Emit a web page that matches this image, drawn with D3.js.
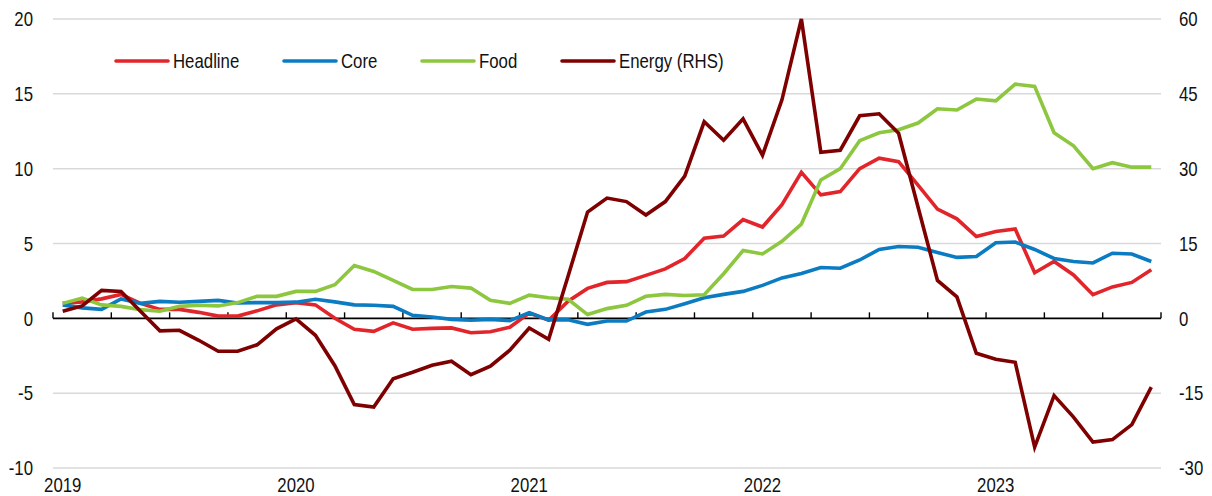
<!DOCTYPE html>
<html>
<head>
<meta charset="utf-8">
<script src="https://cdn.jsdelivr.net/npm/d3@7"></script>
<style>
  body { margin: 0; background: #fff; }
  text { font-family: "Liberation Sans", Arial, sans-serif; fill: #111; }
</style>
</head>
<body>
<div id="chart"></div>
<script>
// monthly, Jan 2019 - Sep 2023
let months = d3.timeMonths(new Date(2019, 0, 1), new Date(2023, 9, 1))
let yearLabels = ['2019', '2020', '2021', '2022', '2023']

let headline = [1.0, 1.1, 1.3, 1.6, 1.0, 0.6, 0.6, 0.4, 0.15, 0.15, 0.5, 0.9,
  1.05, 0.9, 0.0, -0.73, -0.87, -0.3, -0.73, -0.67, -0.64, -0.96, -0.9, -0.6,
  0.35, -0.13, 1.15, 2.0, 2.4, 2.45, 2.87, 3.3, 4.0, 5.35, 5.5, 6.6,
  6.1, 7.6, 9.75, 8.25, 8.47, 10.0, 10.7, 10.47, 8.9, 7.3, 6.65, 5.47,
  5.8, 5.97, 3.05, 3.8, 2.9, 1.58, 2.1, 2.4, 3.25]

let core = [0.9, 0.7, 0.6, 1.3, 1.0, 1.13, 1.07, 1.13, 1.2, 1.03, 1.05, 1.05,
  1.08, 1.27, 1.1, 0.9, 0.87, 0.8, 0.2, 0.09, -0.07, -0.13, -0.07, -0.15,
  0.38, -0.1, -0.1, -0.4, -0.18, -0.18, 0.42, 0.6, 0.98, 1.38, 1.6, 1.8,
  2.2, 2.7, 3.0, 3.4, 3.35, 3.9, 4.6, 4.8, 4.75, 4.4, 4.07, 4.13,
  5.05, 5.1, 4.6, 4.0, 3.8, 3.7, 4.35, 4.3, 3.8]

let food = [1.0, 1.35, 0.9, 0.8, 0.58, 0.47, 0.8, 0.87, 0.83, 1.05, 1.47, 1.47,
  1.8, 1.8, 2.25, 3.53, 3.13, 2.53, 1.93, 1.93, 2.13, 2.02, 1.2, 1.0,
  1.55, 1.38, 1.27, 0.25, 0.65, 0.87, 1.47, 1.6, 1.53, 1.58, 2.98, 4.53,
  4.3, 5.15, 6.3, 9.25, 10.0, 11.87, 12.4, 12.6, 13.05, 14.0, 13.92, 14.65,
  14.53, 15.65, 15.5, 12.4, 11.53, 10.0, 10.4, 10.1, 10.1]

// right-hand scale
let energy = [1.4, 2.5, 5.6, 5.4, 1.4, -2.5, -2.4, -4.4, -6.6, -6.6, -5.3, -2.1,
  -0.1, -3.4, -9.5, -17.3, -17.8, -12.1, -10.8, -9.4, -8.6, -11.3, -9.6, -6.4,
  -1.95, -4.2, 8.5, 21.3, 24.1, 23.4, 20.7, 23.4, 28.5, 39.4, 35.7, 40.0,
  32.7, 43.8, 60.0, 33.3, 33.7, 40.6, 41.0, 37.1, 22.3, 7.6, 4.3, -7.0,
  -8.2, -8.8, -25.8, -15.5, -19.8, -24.8, -24.3, -21.3, -13.8]

let leftTicks = [-10, -5, 0, 5, 10, 15, 20]
let rightTicks = [-30, -15, 0, 15, 30, 45, 60]

let series = [
  { name: 'Headline', values: headline, color: '#e2252b', axis: 'left' },
  { name: 'Core', values: core, color: '#0b7cc2', axis: 'left' },
  { name: 'Food', values: food, color: '#8dc63f', axis: 'left' },
  { name: 'Energy (RHS)', values: energy, color: '#7f0000', axis: 'right' }
]

let width = 1212
let height = 496
let margin = { top: 19, left: 53, right: 51, bottom: 28 }
let fontSize = '20px'
let squeeze = 0.84 // narrow look of the original typeface

let svg = d3
  .select('#chart')
  .append('svg')
  .attr('width', width)
  .attr('height', height)

let x = d3
  .scaleBand()
  .domain(months)
  .range([margin.left, width - margin.right])

let yLeft = d3.scaleLinear().domain([-10, 20]).range([height - margin.bottom, margin.top])
let yRight = d3.scaleLinear().domain([-30, 60]).range([height - margin.bottom, margin.top])

let cx = d => x(d) + x.bandwidth() / 2

function label(sel, px, py, anchor) {
  sel
    .attr('transform', (d, i) => `translate(${px(d, i)},${py(d, i)}) scale(${squeeze},1)`)
    .attr('text-anchor', anchor)
    .style('font-size', fontSize)
}

// gridlines
svg
  .selectAll('.grid')
  .data(leftTicks.filter(d => d !== 0))
  .enter()
  .append('line')
  .attr('class', 'grid')
  .attr('x1', margin.left)
  .attr('x2', width - margin.right)
  .attr('y1', d => yLeft(d))
  .attr('y2', d => yLeft(d))
  .attr('stroke', '#d9d9d9')
  .attr('stroke-width', 1.5)

// left axis labels
svg
  .selectAll('.ltick')
  .data(leftTicks)
  .enter()
  .append('text')
  .attr('class', 'ltick')
  .attr('dy', '0.36em')
  .call(label, () => 33, d => yLeft(d), 'end')
  .text(d => d)

// right axis labels
svg
  .selectAll('.rtick')
  .data(rightTicks)
  .enter()
  .append('text')
  .attr('class', 'rtick')
  .attr('dy', '0.36em')
  .call(label, () => 1179, d => yRight(d), 'start')
  .text(d => d)

// zero axis with quarterly ticks pointing up
let zeroY = yLeft(0)
let xAxis = svg.append('g')
xAxis
  .append('line')
  .attr('x1', margin.left)
  .attr('x2', width - margin.right)
  .attr('y1', zeroY)
  .attr('y2', zeroY)
  .attr('stroke', '#000')
  .attr('stroke-width', 1.6)

let tickMonths = months.filter((d, i) => i % 3 === 0)
xAxis
  .selectAll('.xtick')
  .data(tickMonths)
  .enter()
  .append('line')
  .attr('x1', d => x(d))
  .attr('x2', d => x(d))
  .attr('y1', zeroY)
  .attr('y2', zeroY - 6)
  .attr('stroke', '#000')
  .attr('stroke-width', 1.4)

xAxis
  .append('line')
  .attr('x1', width - margin.right)
  .attr('x2', width - margin.right)
  .attr('y1', zeroY)
  .attr('y2', zeroY - 6)
  .attr('stroke', '#000')
  .attr('stroke-width', 1.4)

// year labels under the January points
let januaries = months.filter(d => d.getMonth() === 0)
svg
  .selectAll('.year')
  .data(januaries)
  .enter()
  .append('text')
  .attr('class', 'year')
  .call(label, d => cx(d), () => 492, 'middle')
  .text((d, i) => yearLabels[i])

// lines
series.forEach(s => {
  let y = s.axis === 'left' ? yLeft : yRight
  let line = d3
    .line()
    .x((d, i) => cx(months[i]))
    .y(d => y(d))

  svg
    .append('path')
    .datum(s.values)
    .attr('d', line)
    .attr('fill', 'none')
    .attr('stroke', s.color)
    .attr('stroke-width', 3.6)
    .attr('stroke-linejoin', 'miter')
})

// legend
let legendX = [116, 284, 422, 562]
let legend = svg.append('g').attr('transform', 'translate(0,61)')

legend
  .selectAll('.legend-entry')
  .data(series)
  .enter()
  .append('g')
  .attr('class', 'legend-entry')
  .attr('transform', (d, i) => `translate(${legendX[i]},0)`)
  .each(function(d) {
    let g = d3.select(this)
    g.append('line')
      .attr('x1', 0)
      .attr('x2', 52)
      .attr('y1', 0)
      .attr('y2', 0)
      .attr('stroke', d.color)
      .attr('stroke-width', 3.6)
      .attr('stroke-linecap', 'round')
    g.append('text')
      .attr('dy', '0.36em')
      .call(label, () => 57, () => 0, 'start')
      .text(d.name)
  })
</script>
</body>
</html>
